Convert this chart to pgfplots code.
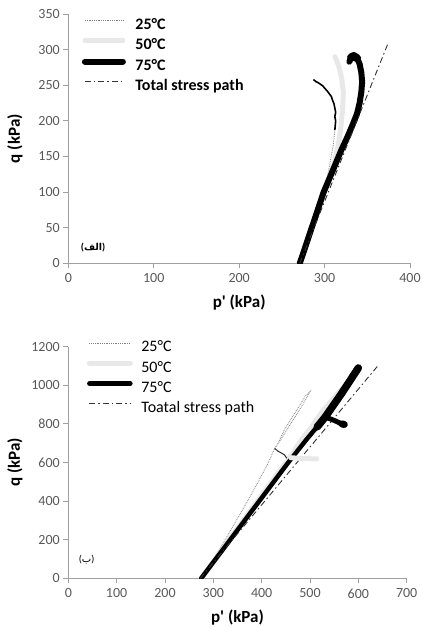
\documentclass[border=0pt]{standalone}
\usepackage{pgfplots}
\pgfplotsset{compat=1.18}
\usepackage{fontspec}
\setmainfont{Carlito}
\newfontfamily\arabicfont[Script=Arabic]{DejaVu Sans}
\TeXXeTstate=1
\definecolor{axgray}{HTML}{A0A0A0}
\definecolor{ticktext}{HTML}{595959}
\definecolor{lightg}{HTML}{E8E8E8}
\definecolor{dotg}{HTML}{808080}
\pgfplotsset{
  mystyle/.style={
    scale only axis,
    axis lines*=left,
    axis line style={axgray, line width=0.8pt},
    tick style={axgray, line width=0.8pt},
    tick align=outside,
    major tick length=5pt,
    xmin=0, ymin=0,
    ticklabel style={font=\fontsize{14}{14}\selectfont, text=ticktext},
    xticklabel style={yshift=-2pt},
    /pgf/number format/assume math mode=true,
    /pgf/number format/1000 sep={},
    label style={font=\bfseries\fontsize{17}{17}\selectfont, inner sep=0pt},
    xlabel style={at={(axis description cs:0.5,0)}, anchor=center, yshift=-39pt},
    legend cell align=left,
  },
  tsp/.style={black!80, line width=0.9pt, dash pattern=on 6pt off 3pt on 1.5pt off 3pt},
  t25/.style={dotg, line width=0.8pt, densely dotted},
  t50/.style={lightg, line width=5pt, line cap=round, line join=round},
  t75/.style={black, line width=6pt, line cap=round, line join=round},
}
\begin{document}
\begin{tikzpicture}
\path[use as bounding box] (0,0) rectangle (422pt,627pt);
% ---------------- top panel ----------------
\begin{axis}[mystyle,
  at={(68.3pt,363.7pt)}, anchor=south west,
  width=341.7pt, height=249.3pt,
  xmax=400, ymax=350,
  xtick={0,100,...,400}, ytick={0,50,...,350},
  xlabel={p\textquotesingle\ (kPa)}, ylabel={q (kPa)},
  ylabel style={at={(axis description cs:-0.156,0.5)}, anchor=center},
  legend image code/.code={\draw[#1] (0pt,5pt) -- (38pt,5pt);},
  legend style={at={(axis cs:15.7,344.4)}, anchor=north west, draw=none, fill=none,
    inner sep=0pt, row sep=6pt, font=\bfseries\fontsize{16}{16}\selectfont,
    nodes={inner sep=0pt, text height=11pt, text depth=3pt},
    /tikz/every odd column/.append style={column sep=9.5pt}},
]
\addplot[t25] coordinates {(271,0) (285,50) (298,98) (303,120) (307,145) (310,165) (312,187)};
\addlegendentry{25°C}
\addplot[t50] coordinates {(271,0) (285,50) (298,100) (305,120) (311,140) (316,165) (319,190) (321,215) (322,240) (320,260) (317,275) (314,285) (312,290)};
\addlegendentry{50°C}
\addplot[t75] coordinates {(271,0) (278,25) (285,50) (292,75) (299,100) (306,120) (313,140) (320,160) (327,178) (333,195) (338,210) (341,225) (343,240) (344,255) (343,268) (341,280) (338,288) (334,291) (331,289) (329,283)};
\addlegendentry{75°C}
\addplot[tsp] coordinates {(271,0) (374,308)};
\addlegendentry{Total stress path}
\addplot[black, line width=1.6pt, forget plot] coordinates {(312,187) (313,200) (312,206) (313,212) (311,224) (309,230) (308,234) (303,242) (300,246) (298,249) (292,254) (290,255) (287,258)};
\addplot[t75, line width=8pt, forget plot] coordinates {(338,288) (334,291) (331,289)};
\node at (axis cs:29,21.5) {\bfseries\fontsize{10}{10}\selectfont ({\arabicfont\bfseries\fontsize{9.5}{9.5}\selectfont\beginR الف\endR})};
\end{axis}
% ---------------- bottom panel ----------------
\begin{axis}[mystyle,
  at={(68.3pt,48.7pt)}, anchor=south west,
  width=338.4pt, height=231.6pt,
  xmax=700, ymax=1200,
  xtick={0,100,...,700}, ytick={0,200,...,1200},
  xlabel={p\textquotesingle\ (kPa)}, ylabel={q (kPa)},
  ylabel style={at={(axis description cs:-0.1575,0.5)}, anchor=center},
  legend image code/.code={\draw[#1] (0pt,5pt) -- (41pt,5pt);},
  legend style={at={(axis cs:38,1231)}, anchor=north west, draw=none, fill=none,
    inner sep=0pt, row sep=6pt, font=\fontsize{16}{16}\selectfont,
    nodes={inner sep=0pt, text height=11pt, text depth=3pt},
    /tikz/every odd column/.append style={column sep=8.5pt}},
]
\addplot[t25] coordinates {(275,0) (300,100) (315,160) (328,215) (350,310) (372,405) (395,510) (412,590) (427,673) (440,720) (455,780) (470,840) (485,900) (500,967) (492,950) (477,890) (462,830) (447,770) (434,700) (427,673)};
\addlegendentry{25°C}
\addplot[t50] coordinates {(275,0) (330,190) (385,380) (440,565) (462,640) (482,717) (505,790) (528,873) (555,950) (580,1020) (592,1055)};
\addlegendentry{50°C}
\addplot[t75, line width=4.5pt] coordinates {(275,0) (335,200) (395,400) (455,600) (493,720) (531,834) (566,960) (600,1090)};
\addlegendentry{75°C}
\addplot[tsp] coordinates {(273,0) (640,1100)};
\addlegendentry{Toatal stress path}
\addplot[t50, forget plot] coordinates {(460,625) (485,620) (514,619)};
\addplot[black!85, line width=1pt, forget plot] coordinates {(427,673) (433,660) (440,650) (447,640) (452,622)};
\addplot[t75, line width=7.5pt, forget plot] coordinates {(515,785) (531,834) (566,960) (600,1090)};
\addplot[t75, line width=5pt, forget plot] coordinates {(531,834) (540,828) (552,816) (563,803) (570,798)};
\addplot[t75, line width=7pt, forget plot] coordinates {(566,800) (571,797)};
\node at (axis cs:38,95) {\fontsize{10}{10}\selectfont ({\arabicfont\fontsize{10}{10}\selectfont\beginR ب\endR})};
\end{axis}
\end{tikzpicture}
\end{document}
